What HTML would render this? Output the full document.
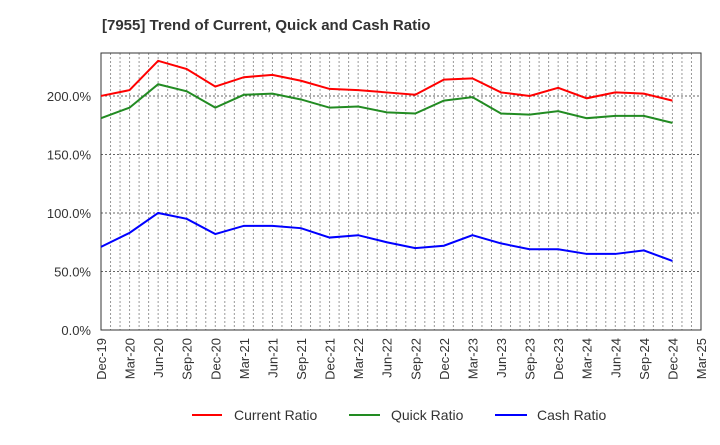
<!DOCTYPE html>
<html><head><meta charset="utf-8"><style>
body{margin:0;background:#fff;font-family:"Liberation Sans",Arial,sans-serif;}
svg text{font-family:"Liberation Sans",Arial,sans-serif;}
</style></head><body>
<svg id="chart" width="720" height="440" xmlns="http://www.w3.org/2000/svg">
<text x="102" y="30" font-size="15" font-weight="bold" fill="#333">[7955]  Trend of Current, Quick and Cash Ratio</text>
<g id="grid"></g>
<g id="axes"></g>
<g id="series"></g>
<g>
<g><line x1="192" y1="415" x2="222" y2="415" stroke="#ff0000" stroke-width="2"/><text x="234" y="420" font-size="14" fill="#333">Current Ratio</text></g>
<g><line x1="349" y1="415" x2="380" y2="415" stroke="#228b22" stroke-width="2"/><text x="391" y="420" font-size="14" fill="#333">Quick Ratio</text></g>
<g><line x1="495" y1="415" x2="527" y2="415" stroke="#0000ff" stroke-width="2"/><text x="537" y="420" font-size="14" fill="#333">Cash Ratio</text></g>
</g>
</svg>
<script>
const categories=["Dec-19","Mar-20","Jun-20","Sep-20","Dec-20","Mar-21","Jun-21","Sep-21","Dec-21","Mar-22","Jun-22","Sep-22","Dec-22","Mar-23","Jun-23","Sep-23","Dec-23","Mar-24","Jun-24","Sep-24","Dec-24","Mar-25"];
const currentRatio=[200,205,230,223,208,216,218,213,206,205,203,201,214,215,203,200,207,198,203,202,196];
const quickRatio=[181,190,210,204,190,201,202,197,190,191,186,185,196,199,185,184,187,181,183,183,177];
const cashRatio=[71,83,100,95,82,89,89,87,79,81,75,70,72,81,74,69,69,65,65,68,59];
const yTicks=[0,50,100,150,200];
const NS="http://www.w3.org/2000/svg";
const L=101,R=701,T=53,B=330,YMAX=236.7;
const x=i=>L+(R-L)*i/(categories.length-1);
const y=v=>B-(B-T)*v/YMAX;
function mk(tag,attrs,parent){const e=document.createElementNS(NS,tag);for(const k in attrs)e.setAttribute(k,attrs[k]);parent.appendChild(e);return e;}
const grid=document.getElementById('grid'),axes=document.getElementById('axes'),series=document.getElementById('series');
const months=(categories.length-1)*3;
for(let m=1;m<months;m++){const xx=L+(R-L)*m/months;const g=mk('line',{x1:xx,x2:xx,y1:T,y2:B,stroke:'#999','stroke-width':1,'stroke-dasharray':'2,2'},grid);

}
yTicks.forEach(v=>{if(v>0){const g=mk('line',{x1:L,x2:R,y1:y(v),y2:y(v),stroke:'#666','stroke-width':1,'stroke-dasharray':'2,2'},grid);

}
const t=mk('text',{x:91,y:y(v)+5,'text-anchor':'end','font-size':13,fill:'#333'},axes);t.textContent=v.toFixed(1)+'%';

});
const fr=mk('rect',{x:L,y:T,width:R-L,height:B-T,fill:'none',stroke:'#333','stroke-width':1},axes);


categories.forEach((c,i)=>{const t=mk('text',{transform:`translate(${x(i)+5},${B+8}) rotate(-90)`,'text-anchor':'end','font-size':13,fill:'#333'},axes);t.textContent=c;

});
[[currentRatio,'#ff0000','current-ratio-line'],[quickRatio,'#228b22','quick-ratio-line'],[cashRatio,'#0000ff','cash-ratio-line']].forEach(([d,c,n])=>{
const p=mk('polyline',{points:d.map((v,i)=>x(i)+','+y(v)).join(' '),fill:'none',stroke:c,'stroke-width':2},series);

});
</script>
</body></html>
